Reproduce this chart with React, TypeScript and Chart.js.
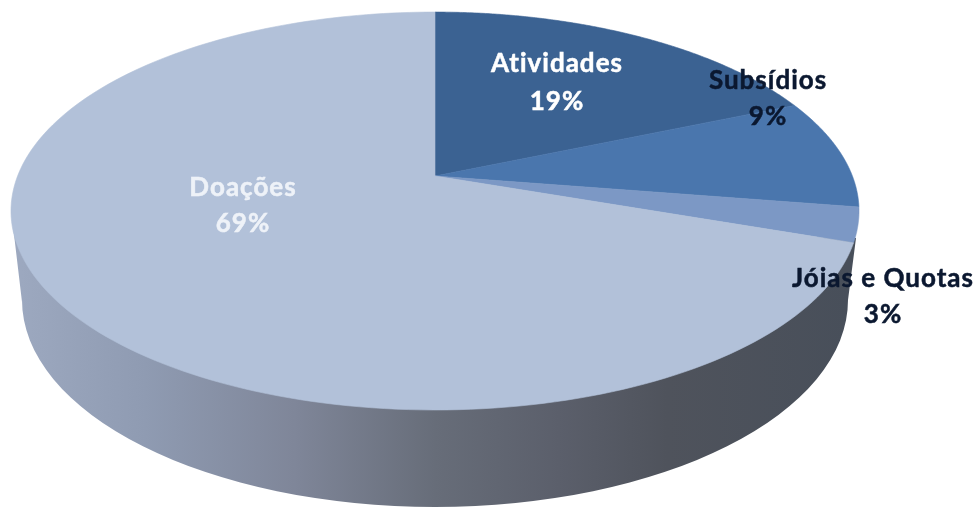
import React, { useEffect, useRef } from "react";
import { Chart, registerables } from "chart.js";

Chart.register(...registerables);

// Data
const categories = ["Atividades", "Subsídios", "Jóias e Quotas", "Doações"];
const shareValues = [18.6, 8.9, 2.8, 69.7];
const percentLabels = ["19%", "9%", "3%", "69%"];

// Styles
const sliceColors = ["#3b6292", "#4a76ad", "#7c98c5", "#b2c1d9"];
const labelColors = ["#ffffff", "#0b1830", "#0b1830", "#eef2f8"];
const wallStops: [number, string][] = [
  [0, "#9ca8bf"],
  [0.15, "#8f9bb2"],
  [0.33, "#7f8699"],
  [0.5, "#676d79"],
  [0.65, "#5b5f6b"],
  [0.78, "#4f535c"],
  [1, "#484f5a"],
];

// Layout of the tilted pie (perspective projection of the unit circle)
const APEX_X = 435;
const APEX_Y = 176;
const PERSP = -0.176;
const SCALE_X = 417.4;
const SCALE_Y = 192.8;
const labelAnchors = [
  [557, 64, 102],
  [768, 81, 117],
  [883, 279, 315],
  [243, 188, 224],
];

function project(angle: number): [number, number] {
  const u = Math.cos(angle);
  const v = Math.sin(angle);
  const w = 1 + PERSP * v;
  return [APEX_X + (SCALE_X * u) / w, APEX_Y + (SCALE_Y * v) / w];
}

const tiltedPie = {
  id: "tiltedPie",
  beforeDatasetDraw(chart: any) {
    const ctx = chart.ctx as CanvasRenderingContext2D;
    // side wall
    const grad = ctx.createLinearGradient(21, 0, 849, 0);
    wallStops.forEach(([o, c]) => grad.addColorStop(o, c));
    ctx.save();
    ctx.fillStyle = grad;
    ctx.beginPath();
    ctx.moveTo(13, 226);
    ctx.lineTo(22, 302);
    ctx.ellipse(435, 300, 413, 207, 0, Math.PI, 0, true);
    ctx.lineTo(856, 238);
    ctx.closePath();
    ctx.fill();
    // top face
    const arcs = chart.getDatasetMeta(0).data;
    arcs.forEach((arc: any, i: number) => {
      const { startAngle, endAngle } = arc.getProps(["startAngle", "endAngle"], true);
      ctx.beginPath();
      ctx.moveTo(APEX_X, APEX_Y);
      const steps = 180;
      for (let s = 0; s <= steps; s++) {
        const [x, y] = project(startAngle + ((endAngle - startAngle) * s) / steps);
        ctx.lineTo(x, y);
      }
      ctx.closePath();
      ctx.fillStyle = sliceColors[i];
      ctx.strokeStyle = sliceColors[i];
      ctx.lineWidth = 0.6;
      ctx.fill();
      ctx.stroke();
    });
    ctx.restore();
    return false;
  },
  afterDraw(chart: any) {
    const ctx = chart.ctx as CanvasRenderingContext2D;
    ctx.save();
    ctx.font = 'bold 26px Lato, "Open Sans", sans-serif';
    (ctx as any).letterSpacing = "1px";
    ctx.textAlign = "center";
    ctx.textBaseline = "middle";
    ctx.lineWidth = 0.5;
    categories.forEach((name, i) => {
      const [x, y1, y2] = labelAnchors[i];
      ctx.fillStyle = labelColors[i];
      ctx.strokeStyle = labelColors[i];
      ctx.fillText(name, x, y1);
      ctx.fillText(percentLabels[i], x, y2);
      ctx.strokeText(name, x, y1);
      ctx.strokeText(percentLabels[i], x, y2);
    });
    ctx.restore();
  },
};

export default function App() {
  const ref = useRef<HTMLCanvasElement | null>(null);
  useEffect(() => {
    document.body.style.margin = "0";
    document.body.style.background = "#ffffff";
    const chart = new Chart(ref.current as HTMLCanvasElement, {
      type: "pie",
      data: {
        labels: categories,
        datasets: [{ data: shareValues, backgroundColor: sliceColors, borderWidth: 0 }],
      },
      options: {
        responsive: false,
        animation: false,
        devicePixelRatio: 1,
        rotation: 0,
        plugins: { legend: { display: false }, tooltip: { enabled: false }, title: { display: false } },
      },
      plugins: [tiltedPie],
    } as any);
    return () => chart.destroy();
  }, []);
  return <canvas ref={ref} width={978} height={507} style={{ display: "block", filter: "blur(0.4px)" }} />;
}
